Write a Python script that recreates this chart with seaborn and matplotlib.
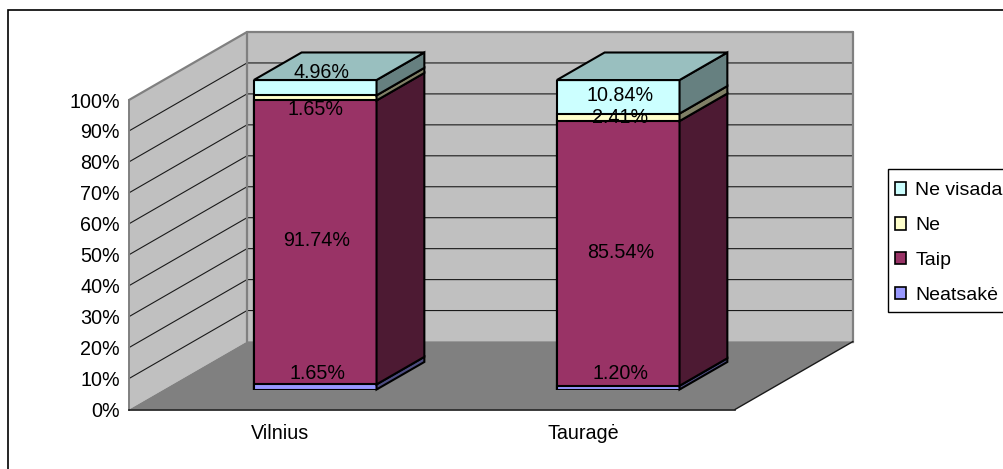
import pandas as pd
import numpy as np
import matplotlib
matplotlib.use('Agg')
import matplotlib.pyplot as plt
from matplotlib.patches import Patch, Polygon, Rectangle
import seaborn as sns

# Duomenys
miestai = ['Vilnius', 'Tauragė']
serijos = ['Neatsakė', 'Taip', 'Ne', 'Ne visada']
neatsake = [1.65, 1.20]
taip = [91.74, 85.54]
ne = [1.65, 2.41]
ne_visada = [4.96, 10.84]
y_ticks = [0, 10, 20, 30, 40, 50, 60, 70, 80, 90, 100]

spalvos = ['#9999FF', '#993366', '#FFFFCC', '#CCFFFF']

sns.set_theme(style='white')
plt.rcParams['font.family'] = ['Liberation Sans', 'DejaVu Sans']
plt.rcParams['font.size'] = 14.2

W, H = 1004, 469
fig = plt.figure(figsize=(W / 100, H / 100), dpi=100, facecolor='white')


def px_box(x0, y0, x1, y1):
    # left, bottom, width, height from picture pixels
    return [x0 / W, 1 - y1 / H, (x1 - x0) / W, (y1 - y0) / H]


# Rėmelis: apačia ir dešinė už paveikslo ribų
fig.add_artist(Rectangle((8 / W, -10 / H), 1010 / W, 469 / H, transform=fig.transFigure,
                         fill=False, edgecolor='black', linewidth=1.2))

ax = fig.add_axes(px_box(129, 100, 735, 409.5))
ax.set_xlim(-0.5, 1.5)
ax.set_ylim(0, 100)

# how far one full unit of depth moves a point, in data units
DX = 118 / 303
DY = 68 / 3.095


def proj(x, y, d):
    return (x + d * DX, y + d * DY)


# Sienos ir grindys
ax.add_patch(Polygon([proj(-0.5, 0, 0), proj(-0.5, 100, 0), proj(-0.5, 100, 1), proj(-0.5, 0, 1)],
                     facecolor='#C0C0C0', edgecolor='none', clip_on=False, zorder=1))
ax.add_patch(Polygon([proj(-0.5, 0, 1), proj(-0.5, 100, 1), proj(1.5, 100, 1), proj(1.5, 0, 1)],
                     facecolor='#C0C0C0', edgecolor='none', clip_on=False, zorder=1))
ax.add_patch(Polygon([proj(-0.5, 0, 0), proj(1.5, 0, 0), proj(1.5, 0, 1), proj(-0.5, 0, 1)],
                     facecolor='#808080', edgecolor='none', clip_on=False, zorder=1))

for v in y_ticks[1:]:
    pts = np.array([proj(-0.5, v, 0), proj(-0.5, v, 1), proj(1.5, v, 1)])
    if v == 100:
        ax.plot(pts[:, 0], pts[:, 1], color='#808080', lw=1.6, clip_on=False, zorder=2)
    else:
        ax.plot(pts[:, 0], pts[:, 1], color='#1a1a1a', lw=0.8, clip_on=False, zorder=2)

pts = np.array([proj(-0.5, 0, 1), proj(-0.5, 100, 1)])
ax.plot(pts[:, 0], pts[:, 1], color='#808080', lw=1.6, clip_on=False, zorder=2)
pts = np.array([proj(1.5, 0, 1), proj(1.5, 100, 1)])
ax.plot(pts[:, 0], pts[:, 1], color='#808080', lw=1.6, clip_on=False, zorder=2)
pts = np.array([proj(-0.5, 0, 1), proj(1.5, 0, 1)])
ax.plot(pts[:, 0], pts[:, 1], color='#808080', lw=1.0, clip_on=False, zorder=2)
pts = np.array([proj(1.5, 0, 0), proj(1.5, 0, 1)])
ax.plot(pts[:, 0], pts[:, 1], color='#1a1a1a', lw=1.0, clip_on=False, zorder=3)

# Asys
ax.set_yticks(y_ticks)
ax.set_yticklabels([f'{v}%' for v in y_ticks])
ax.set_xticks([-0.5, 0.5, 1.5])
ax.set_xticklabels(['', '', ''])
ax.set_xticks([0, 1], labels=miestai, minor=True)
ax.tick_params(axis='y', length=3.6, width=1, color='black', pad=3, labelsize=14.2, labelcolor='black')
ax.tick_params(axis='x', which='major', length=5, width=1, color='#555555')
ax.tick_params(axis='x', which='minor', length=0, pad=10.4, labelsize=14.2, labelcolor='black')
ax.xaxis.get_major_ticks()[0].tick1line.set_color('black')
ax.patch.set_visible(False)
for s in ['top', 'right']:
    ax.spines[s].set_visible(False)
ax.spines['left'].set_color('#808080')
ax.spines['left'].set_linewidth(1.4)
ax.spines['bottom'].set_color('#1a1a1a')
ax.spines['bottom'].set_linewidth(1.2)

# Stulpeliai: kaupiamos sumos, didžiausia piešiama pirma
d_front = 0.294
d_bar = 0.405
plot = fig.add_axes(px_box(129 + d_front * 118, 100 - d_front * 68, 735 + d_front * 118, 409.5 - d_front * 68))
plot.patch.set_visible(False)

reiksmes = [neatsake, taip, ne, ne_visada]
kaupiama = np.cumsum(np.array(reiksmes), axis=0)
bar_w = 0.405

for i in range(len(serijos) - 1, -1, -1):
    df = pd.DataFrame({'miestas': miestai, 'suma': kaupiama[i]})
    sns.barplot(data=df, x='miestas', y='suma', color=spalvos[i], saturation=1, width=bar_w,
                edgecolor='black', linewidth=1.5, ax=plot, zorder=5)

plot.set_xlim(-0.5, 1.5)
plot.set_ylim(0, 100)
plot.axis('off')


def shade(c, k):
    rgb = np.array(matplotlib.colors.to_rgb(c))
    return tuple(rgb * k)


for j in range(len(miestai)):
    xr = j + bar_w / 2
    xl = j - bar_w / 2
    low = 0
    for i in range(len(serijos)):
        top = kaupiama[i][j]
        plot.add_patch(Polygon([proj(xr, low, 0), proj(xr, top, 0), proj(xr, top, d_bar), proj(xr, low, d_bar)],
                               facecolor=shade(spalvos[i], 0.5), edgecolor='black', linewidth=1.5,
                               clip_on=False, zorder=5))
        low = top
    plot.add_patch(Polygon([proj(xl, low, 0), proj(xr, low, 0), proj(xr, low, d_bar), proj(xl, low, d_bar)],
                           facecolor=shade(spalvos[-1], 0.75), edgecolor='black', linewidth=1.5,
                           clip_on=False, zorder=5))

# Žymos: Excel jas pastumia, todėl poslinkiai pikseliais
poslinkiai = [
    [(2, 13.5), (2, 14)],
    [(1, 2), (2, 1)],
    [(0, -12), (2, 0)],
    [(6, 15.5), (2, 1)],
]
for i in range(len(serijos)):
    for j in range(len(miestai)):
        mid = kaupiama[i][j] - reiksmes[i][j] / 2
        sx, sy = poslinkiai[i][j]
        plot.annotate(f'{reiksmes[i][j]:.2f}%', (j, mid), xytext=(sx * 0.72, sy * 0.72),
                      textcoords='offset points', ha='center', va='center',
                      fontsize=14.2, color='black', zorder=10, annotation_clip=False)

# Legenda: rėmelis atskirai, nes jis išeina už paveikslo krašto
fig.add_artist(Rectangle((888 / W, 1 - 312 / H), 130 / W, 142.5 / H, transform=fig.transFigure,
                         facecolor='white', edgecolor='black', linewidth=1))
rankenos = [Patch(facecolor=spalvos[i], edgecolor='black', linewidth=1.2, label=serijos[i])
            for i in range(len(serijos) - 1, -1, -1)]
leg = fig.legend(handles=rankenos, loc='upper left', bbox_to_anchor=(888 / W, 1 - 175.5 / H),
                 bbox_transform=fig.transFigure, fontsize=14, frameon=False, labelcolor='black',
                 handlelength=0.6, handleheight=0.6,
                 handletextpad=0.45, labelspacing=0.92, borderpad=0.35, borderaxespad=0)

fig.savefig('out.png', dpi=100)
